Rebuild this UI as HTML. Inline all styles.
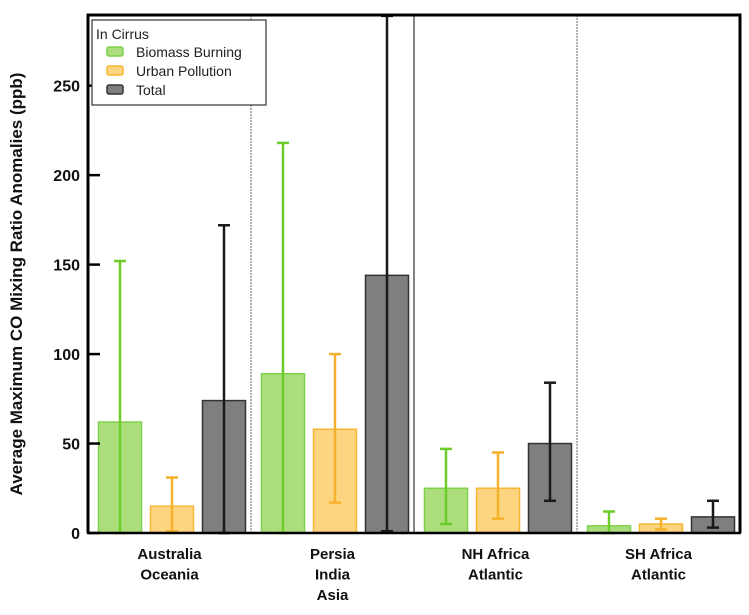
<!DOCTYPE html>
<html><head><meta charset="utf-8"><style>
body{margin:0;background:#fff;}
svg{display:block;font-family:"Liberation Sans",Arial,sans-serif;}
</style></head><body>
<svg id="chart" width="749" height="615"></svg>
<script>
const categories=[["Australia","Oceania"],["Persia","India","Asia"],["NH Africa","Atlantic"],["SH Africa","Atlantic"]];
const seriesNames=["Biomass Burning","Urban Pollution","Total"];
const biomass=[62,89,25,4];
const biomassLow=[0,0,5,0];
const biomassHigh=[152,218,47,12];
const urban=[15,58,25,5];
const urbanLow=[1,17,8,2];
const urbanHigh=[31,100,45,8];
const total=[74,144,50,9];
const totalLow=[0,1,18,3];
const totalHigh=[172,289,84,18];
const yTicks=[0,50,100,150,200,250];

const NS="http://www.w3.org/2000/svg";
const svg=document.getElementById('chart');
const L=88,R=740,T=15,B=533,yMax=289.5;
const y=v=>B-(v/yMax)*(B-T);
const gw=(R-L)/categories.length;
const fills=["#acde7d","#fdd47f","#7f7f7f"];
const strokes=["#7fd04a","#f7b733","#333333"];
const errCol=["#6ccc2a","#f5b12c","#1a1a1a"];
const vals=[biomass,urban,total],lows=[biomassLow,urbanLow,totalLow],highs=[biomassHigh,urbanHigh,totalHigh];
function el(t,a,p){const e=document.createElementNS(NS,t);for(const k in a)e.setAttribute(k,a[k]);(p||svg).appendChild(e);return e;}

for(let i=1;i<categories.length;i++){
  const d=el('line',{x1:L+gw*i,x2:L+gw*i,y1:T,y2:B,stroke:i==2?'#444':'#888','stroke-width':1.3,'stroke-dasharray':i==2?'':'2,1'});
  
  
}
const offs=[-71,-19,33],bw=43;
categories.forEach((c,i)=>{
  const g0=L+gw*i+gw/2;
  for(let s=0;s<3;s++){
    const x=g0+offs[s];
    const r=el('rect',{x:x,y:y(vals[s][i]),width:bw,height:B-y(vals[s][i]),fill:fills[s],stroke:strokes[s],'stroke-width':1.5});
    
    
    const cx=x+bw/2;
    const eg=el('g',{stroke:errCol[s],'stroke-width':2.5});
    
    
    el('line',{x1:cx,x2:cx,y1:y(lows[s][i]),y2:y(highs[s][i])},eg);
    el('line',{x1:cx-6,x2:cx+6,y1:y(highs[s][i]),y2:y(highs[s][i])},eg);
    el('line',{x1:cx-6,x2:cx+6,y1:y(lows[s][i]),y2:y(lows[s][i])},eg);
  }
  c.forEach((ln,k)=>{
    const t=el('text',{x:g0,y:559+k*20.5,'text-anchor':'middle','font-size':15,'font-weight':'bold',fill:'#111'});
    t.textContent=ln;
    
    
  });
});
const fr=el('path',{d:`M${L} ${B}V${T}H${R}V${B}`,fill:'none',stroke:'#000','stroke-width':3});


const xa=el('line',{x1:L-1,x2:R+1,y1:B,y2:B,stroke:'#000','stroke-width':2.5});


yTicks.forEach(v=>{
  const tk=el('line',{x1:L,x2:L+12,y1:y(v),y2:y(v),stroke:'#000','stroke-width':2.5});
  
  
  const t=el('text',{x:L-8,y:y(v)+6,'text-anchor':'end','font-size':16,'font-weight':'bold',fill:'#111'});
  t.textContent=v;
  
  
});
const yt=el('text',{x:0,y:0,transform:`translate(22,${(T+B)/2+10}) rotate(-90)`,'text-anchor':'middle','font-size':17,'font-weight':'bold',fill:'#111'});
yt.textContent="Average Maximum CO Mixing Ratio Anomalies (ppb)";


const lg=el('g',{});


el('rect',{x:92,y:20,width:174,height:85,fill:'#fff',stroke:'#333','stroke-width':1.2},lg);
const lt=el('text',{x:96,y:39,'font-size':14,fill:'#222'},lg);
lt.textContent="In Cirrus";


seriesNames.forEach((n,s)=>{
  const ey=58+s*19;
  const e=el('g',{},lg);
  
  
  el('rect',{x:107,y:ey-11,width:16,height:9,rx:2,fill:fills[s],stroke:strokes[s],'stroke-width':1.5},e);
  const tx=el('text',{x:136,y:ey-1,'font-size':14,fill:'#222'},e);
  tx.textContent=n;
});
</script>
</body></html>
